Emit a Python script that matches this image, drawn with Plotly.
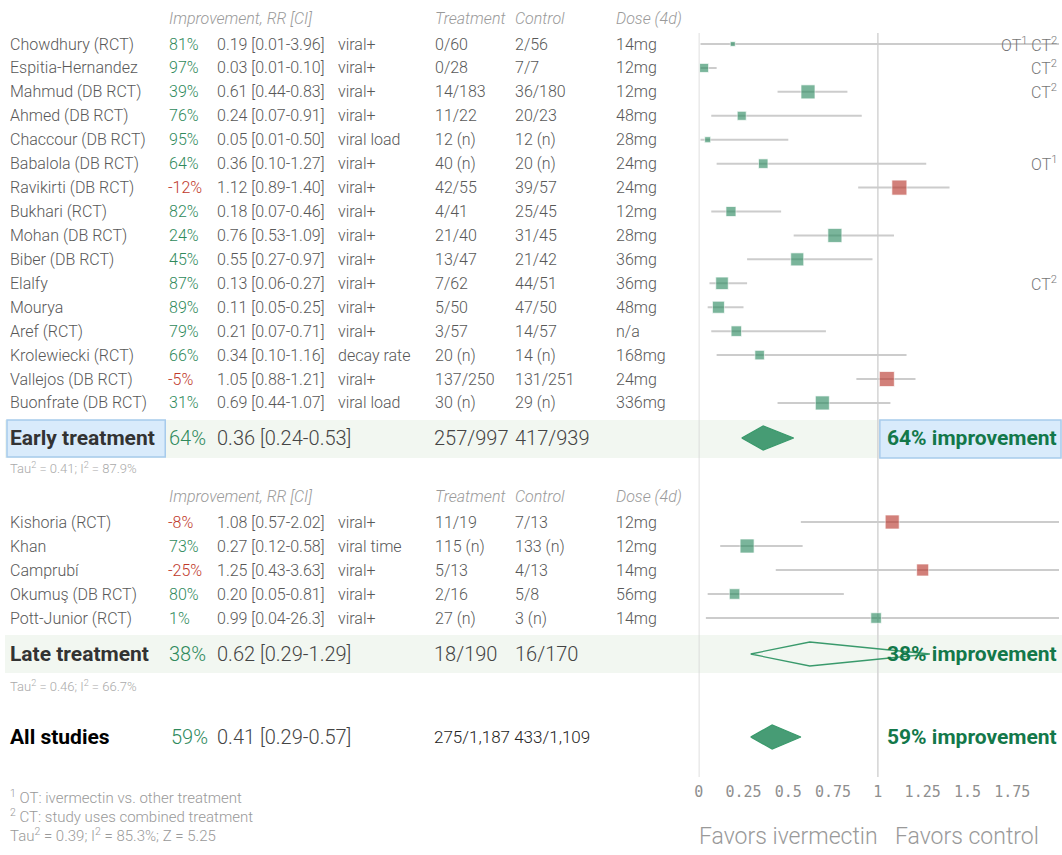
import plotly.graph_objects as go

W, H = 1062, 855

# ---------------- data ----------------
early_names = ["Chowdhury (RCT)", "Espitia-Hernandez", "Mahmud (DB RCT)", "Ahmed (DB RCT)",
               "Chaccour (DB RCT)", "Babalola (DB RCT)", "Ravikirti (DB RCT)", "Bukhari (RCT)",
               "Mohan (DB RCT)", "Biber (DB RCT)", "Elalfy", "Mourya", "Aref (RCT)",
               "Krolewiecki (RCT)", "Vallejos (DB RCT)", "Buonfrate (DB RCT)"]
early_pct = [81, 97, 39, 76, 95, 64, -12, 82, 24, 45, 87, 89, 79, 66, -5, 31]
early_rr = [0.19, 0.03, 0.61, 0.24, 0.05, 0.36, 1.12, 0.18, 0.76, 0.55, 0.13, 0.11, 0.21, 0.34, 1.05, 0.69]
early_lo = [0.01, 0.01, 0.44, 0.07, 0.01, 0.10, 0.89, 0.07, 0.53, 0.27, 0.06, 0.05, 0.07, 0.10, 0.88, 0.44]
early_hi = [3.96, 0.10, 0.83, 0.91, 0.50, 1.27, 1.40, 0.46, 1.09, 0.97, 0.27, 0.25, 0.71, 1.16, 1.21, 1.07]
early_outcome = ["viral+", "viral+", "viral+", "viral+", "viral load", "viral+", "viral+", "viral+",
                 "viral+", "viral+", "viral+", "viral+", "viral+", "decay rate", "viral+", "viral load"]
early_treat = ["0/60", "0/28", "14/183", "11/22", "12 (n)", "40 (n)", "42/55", "4/41",
               "21/40", "13/47", "7/62", "5/50", "3/57", "20 (n)", "137/250", "30 (n)"]
early_ctrl = ["2/56", "7/7", "36/180", "20/23", "12 (n)", "20 (n)", "39/57", "25/45",
              "31/45", "21/42", "44/51", "47/50", "14/57", "14 (n)", "131/251", "29 (n)"]
early_dose = ["14mg", "12mg", "12mg", "48mg", "28mg", "24mg", "24mg", "12mg",
              "28mg", "36mg", "36mg", "48mg", "n/a", "168mg", "24mg", "336mg"]
early_notes = ["OT<sup>1</sup> CT<sup>2</sup>", "CT<sup>2</sup>", "CT<sup>2</sup>", "", "", "OT<sup>1</sup>", "", "",
               "", "", "CT<sup>2</sup>", "", "", "", "", ""]
early_weight = [5, 9, 14, 9, 6, 9.5, 15, 10, 14, 13, 12.5, 12, 10.5, 9.5, 15, 14]

late_names = ["Kishoria (RCT)", "Khan", "Camprubí", "Okumuş (DB RCT)", "Pott-Junior (RCT)"]
late_pct = [-8, 73, -25, 80, 1]
late_rr = [1.08, 0.27, 1.25, 0.20, 0.99]
late_lo = [0.57, 0.12, 0.43, 0.05, 0.04]
late_hi = [2.02, 0.58, 3.63, 0.81, 26.3]
late_outcome = ["viral+", "viral time", "viral+", "viral+", "viral+"]
late_treat = ["11/19", "115 (n)", "5/13", "2/16", "27 (n)"]
late_ctrl = ["7/13", "133 (n)", "4/13", "5/8", "3 (n)"]
late_dose = ["12mg", "12mg", "14mg", "56mg", "14mg"]
late_weight = [14, 14, 12, 10.5, 10.5]

summary_labels = ["Early treatment", "Late treatment", "All studies"]
summary_pct = [64, 38, 59]
summary_rr = [0.36, 0.62, 0.41]
summary_lo = [0.24, 0.29, 0.29]
summary_hi = [0.53, 1.29, 0.57]
summary_treat = ["257/997", "18/190", "275/1,187"]
summary_ctrl = ["417/939", "16/170", "433/1,109"]
summary_stats = ["Tau<sup>2</sup> = 0.41; I<sup>2</sup> = 87.9%",
                 "Tau<sup>2</sup> = 0.46; I<sup>2</sup> = 66.7%", ""]

tick_vals = [0, 0.25, 0.5, 0.75, 1, 1.25, 1.5, 1.75]
tick_text = ["0", "0.25", "0.5", "0.75", "1", "1.25", "1.5", "1.75"]

footnotes = ["<sup>1</sup> OT: ivermectin vs. other treatment",
             "<sup>2</sup> CT: study uses combined treatment",
             "Tau<sup>2</sup> = 0.39; I<sup>2</sup> = 85.3%; Z = 5.25"]

# ---------------- style ----------------
GREEN = "rgba(45,140,98,0.9)"
RED = "rgba(185,55,45,0.9)"
GREEN_TXT = "#2f8a5c"
RED_TXT = "#c0392b"
IMPROVE_TXT = "#13784a"
FONT = "Roboto"
GREY = "#585858"

X0_PX, X1_PX, PX_PER_UNIT = 697, 1059, 180.0

early_y = [44 + 23.93 * i for i in range(len(early_names))]
late_y = [522 + 24 * i for i in range(len(late_names))]
summary_y = [438, 654, 737]

def fmt(v):
    return f"{v:.2f}" if v < 10 else f"{v:.1f}"

def px(x):
    return x / W

fig = go.Figure()
annotations = []
shapes = []

def text(x, y, s, size=16, color=GREY, weight=300, anchor="left", italic=False, family=FONT):
    dx = {"left": -5, "right": 1, "center": 0}[anchor]
    annotations.append(dict(
        x=px(x + dx), xref="paper", y=y, yref="y", text=s, showarrow=False,
        xanchor=anchor, yanchor="middle", align=anchor, borderpad=0, borderwidth=0,
        font=dict(family=family, size=size, color=color, weight=weight,
                  style="italic" if italic else "normal")))

# background rows
shapes.append(dict(type="rect", xref="paper", yref="y", x0=0, x1=1, y0=420, y1=458,
                   fillcolor="#f2f7f1", line=dict(width=0), layer="below"))
shapes.append(dict(type="rect", xref="paper", yref="y", x0=0, x1=1, y0=635, y1=673,
                   fillcolor="#f2f7f1", line=dict(width=0), layer="below"))
# reference lines at 0 and 1
for v in (0, 1):
    shapes.append(dict(type="line", xref="x", yref="y", x0=v, x1=v, y0=33, y1=777,
                       line=dict(color="#d4d4d4", width=1.5), layer="below"))
# highlight boxes
shapes.append(dict(type="rect", xref="paper", yref="y", x0=px(2), x1=px(161), y0=420, y1=457,
                   fillcolor="#d9ebfb", line=dict(color="#a7cbec", width=1.5), layer="below"))
shapes.append(dict(type="rect", xref="paper", yref="y", x0=px(879), x1=px(1061), y0=420, y1=458,
                   fillcolor="#d9ebfb", line=dict(color="#a7cbec", width=1.5), layer="below"))

# headers
for hy in (18, 496):
    text(170, hy, "Improvement, RR [CI]", color="#9a9a9a", italic=True, size=16)
    text(437, hy, "Treatment", color="#9a9a9a", italic=True, size=16)
    text(517, hy, "Control", color="#9a9a9a", italic=True, size=16)
    text(619, hy, "Dose (4d)", color="#9a9a9a", italic=True, size=16)

def study_rows(names, pct, rr, lo, hi, outc, tr, ct, dose, ys):
    for i, y in enumerate(ys):
        text(10, y, names[i])
        text(170 if pct[i] >= 0 else 169, y, f"{pct[i]}%", color=GREEN_TXT if pct[i] >= 0 else RED_TXT)
        text(218, y, f"{fmt(rr[i])} [{fmt(lo[i])}-{fmt(hi[i])}]")
        text(340, y, outc[i])
        text(437, y, tr[i])
        text(517, y, ct[i])
        text(619, y, dose[i])

study_rows(early_names, early_pct, early_rr, early_lo, early_hi, early_outcome,
           early_treat, early_ctrl, early_dose, early_y)
study_rows(late_names, late_pct, late_rr, late_lo, late_hi, late_outcome,
           late_treat, late_ctrl, late_dose, late_y)

for i, y in enumerate(early_y):
    if early_notes[i]:
        text(1056, y, early_notes[i], color="#777777", anchor="right")

# CI lines and markers
def ci_trace(lo, hi, ys):
    xs, yy = [], []
    for a, b, y in zip(lo, hi, ys):
        xs += [a, b, None]
        yy += [y, y, None]
    return go.Scatter(x=xs, y=yy, mode="lines", line=dict(color="#cccccc", width=2),
                      hoverinfo="skip", showlegend=False)

fig.add_trace(ci_trace(early_lo, early_hi, early_y))
fig.add_trace(ci_trace(late_lo, late_hi, late_y))

def marker_trace(rr, ys, sizes):
    return go.Scatter(x=rr, y=ys, mode="markers",
                      marker=dict(symbol="square", size=sizes,
                                  color=[GREEN if r < 1 else RED for r in rr],
                                  line=dict(color="rgba(255,255,255,0.7)", width=1)),
                      showlegend=False)

fig.add_trace(marker_trace(early_rr, early_y, early_weight))
fig.add_trace(marker_trace(late_rr, late_y, late_weight))

# summary diamonds
HALF = 12
for i, y in enumerate(summary_y):
    filled = i != 1
    fig.add_trace(go.Scatter(
        x=[summary_lo[i], summary_rr[i], summary_hi[i], summary_rr[i], summary_lo[i]],
        y=[y, y - HALF, y, y + HALF, y],
        mode="lines", fill="toself" if filled else "none",
        fillcolor="rgba(55,148,105,0.92)",
        line=dict(color="#3a9a6c", width=1.3), showlegend=False, hoverinfo="skip"))

# summary texts
for i, y in enumerate(summary_y):
    lab_color = "#000000" if i == 2 else "#333333"
    text(10, y, f"<b>{summary_labels[i]}</b>", size=21, color=lab_color, weight=700)
    text(170 if i < 2 else 172, y, f"{summary_pct[i]}%", size=20, color=GREEN_TXT)
    text(218, y, f"{summary_rr[i]:.2f} [{summary_lo[i]:.2f}-{summary_hi[i]:.2f}]", size=20, color="#444444")
    if i < 2:
        text(436, y, summary_treat[i], size=20, color="#444444")
        text(517, y, summary_ctrl[i], size=20, color="#444444")
    else:
        text(436, y, summary_treat[i] + " " + summary_ctrl[i], size=17, color="#222222")
    text(1056, y, f"<b>{summary_pct[i]}% improvement</b>", size=21, color=IMPROVE_TXT,
         weight=700, anchor="right")
    if summary_stats[i]:
        text(10, y + 30 if i == 0 else y + 32, summary_stats[i], size=13, color="#aaaaaa")

# footnotes
for j, s in enumerate(footnotes):
    text(10, 797 + 19 * j, s, size=15, color="#999999")

# favors labels
text(787, 836, "Favors ivermectin", size=23, color="#999999", anchor="center")
text(967, 836, "Favors control", size=23, color="#999999", anchor="center")

fig.update_layout(
    width=W, height=H, autosize=False,
    margin=dict(l=0, r=0, t=0, b=0),
    paper_bgcolor="white", plot_bgcolor="rgba(0,0,0,0)",
    showlegend=False,
    xaxis=dict(domain=[X0_PX / W, X1_PX / W],
               range=[0, (X1_PX - X0_PX) / PX_PER_UNIT],
               tickvals=tick_vals, ticktext=tick_text,
               tickfont=dict(family="DejaVu Sans Mono", size=15, color="#8f8f8f"),
               showgrid=False, zeroline=False, showline=False, ticks="",
               anchor="free", position=(H - 781) / H, fixedrange=True),
    yaxis=dict(domain=[0, 1], range=[H, 0], visible=False, fixedrange=True),
    annotations=annotations, shapes=shapes,
)

fig.write_html("out.html", post_script="document.body.style.margin='0';",
               config={"displayModeBar": False})
